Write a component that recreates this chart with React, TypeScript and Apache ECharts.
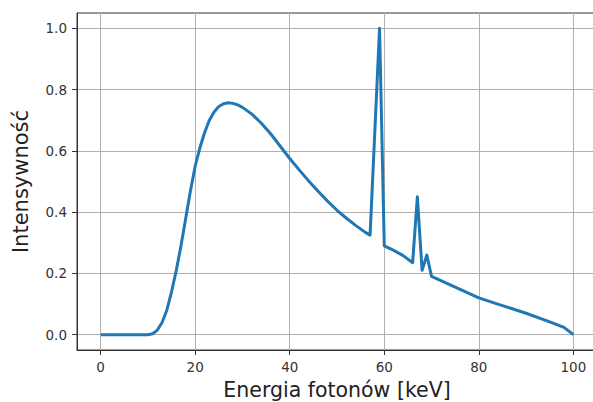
import React, { useEffect, useRef } from "react";
import * as echarts from "echarts";

const energies = [0, 2, 4, 6, 8, 10, 11, 12, 13, 14, 15, 16, 17, 18, 19, 20, 21, 22, 23, 24, 25, 26, 27, 28, 29, 30, 32, 34, 36, 38, 40, 42, 44, 46, 48, 50, 52, 54, 56, 57, 59, 60, 62, 64, 66, 67, 68, 69, 70, 75, 80, 85, 90, 95, 98, 100];
const intensities = [0, 0, 0, 0, 0, 0, 0.003, 0.015, 0.04, 0.08, 0.14, 0.21, 0.29, 0.38, 0.47, 0.55, 0.61, 0.66, 0.7, 0.727, 0.745, 0.754, 0.757, 0.755, 0.75, 0.742, 0.72, 0.69, 0.655, 0.615, 0.575, 0.538, 0.502, 0.468, 0.436, 0.406, 0.38, 0.356, 0.334, 0.325, 1.0, 0.29, 0.275, 0.258, 0.235, 0.45, 0.21, 0.26, 0.19, 0.155, 0.12, 0.095, 0.07, 0.042, 0.024, 0];
const xTicks = [0, 20, 40, 60, 80, 100];
const yTicks = [0, 0.2, 0.4, 0.6, 0.8, 1.0];

const FONT = "DejaVu Sans";

export default function App() {
  const ref = useRef<HTMLDivElement>(null);
  useEffect(() => {
    if (!ref.current) return;
    const chart = echarts.init(ref.current, null, { renderer: "svg" });
    const data = energies.map((e, i) => [e, intensities[i]]);
    chart.setOption({
      animation: false,
      backgroundColor: "#ffffff",
      grid: {
        left: 77,
        top: 13,
        width: 520,
        height: 337,
        show: true,
        borderColor: "#333",
        borderWidth: 1,
        containLabel: false,
        outerBoundsMode: "none",
      },
      xAxis: {
        type: "value",
        min: -5,
        max: 105,
        name: "Energia fotonów [keV]",
        nameLocation: "middle",
        nameGap: 29,
        nameTextStyle: { fontFamily: FONT, fontSize: 20.5, color: "#222" },
        axisLine: { show: true, onZero: false, lineStyle: { color: "#333", width: 1 } },
        axisTick: { show: true, length: 5, lineStyle: { color: "#333" }, customValues: xTicks },
        axisLabel: {
          fontFamily: FONT,
          fontSize: 13.5,
          color: "#333",
          margin: 10,
          customValues: xTicks,
          formatter: (v: number) => String(v),
        },
        splitLine: { show: true, lineStyle: { color: "#b0b0b0", width: 1 } },
      },
      yAxis: {
        type: "value",
        min: -0.05,
        max: 1.05,
        name: "Intensywność",
        nameLocation: "middle",
        nameGap: 46,
        nameRotate: 90,
        nameTextStyle: { fontFamily: FONT, fontSize: 21, color: "#222" },
        axisLine: { show: true, onZero: false, lineStyle: { color: "#333", width: 1 } },
        axisTick: { show: true, length: 5, lineStyle: { color: "#333" }, customValues: yTicks },
        axisLabel: {
          fontFamily: FONT,
          fontSize: 13.5,
          color: "#333",
          margin: 10,
          customValues: yTicks,
          formatter: (v: number) => v.toFixed(1),
        },
        splitLine: { show: true, lineStyle: { color: "#b0b0b0", width: 1 } },
      },
      series: [
        {
          type: "line",
          data,
          showSymbol: false,
          symbol: "none",
          lineStyle: { color: "#1f77b4", width: 3, join: "round" },
          itemStyle: { color: "#1f77b4" },
          clip: true,
        },
      ],
    });
    return () => chart.dispose();
  }, []);
  return <div ref={ref} style={{ width: 593, height: 402, position: "absolute", left: 0, top: 0 }} />;
}
